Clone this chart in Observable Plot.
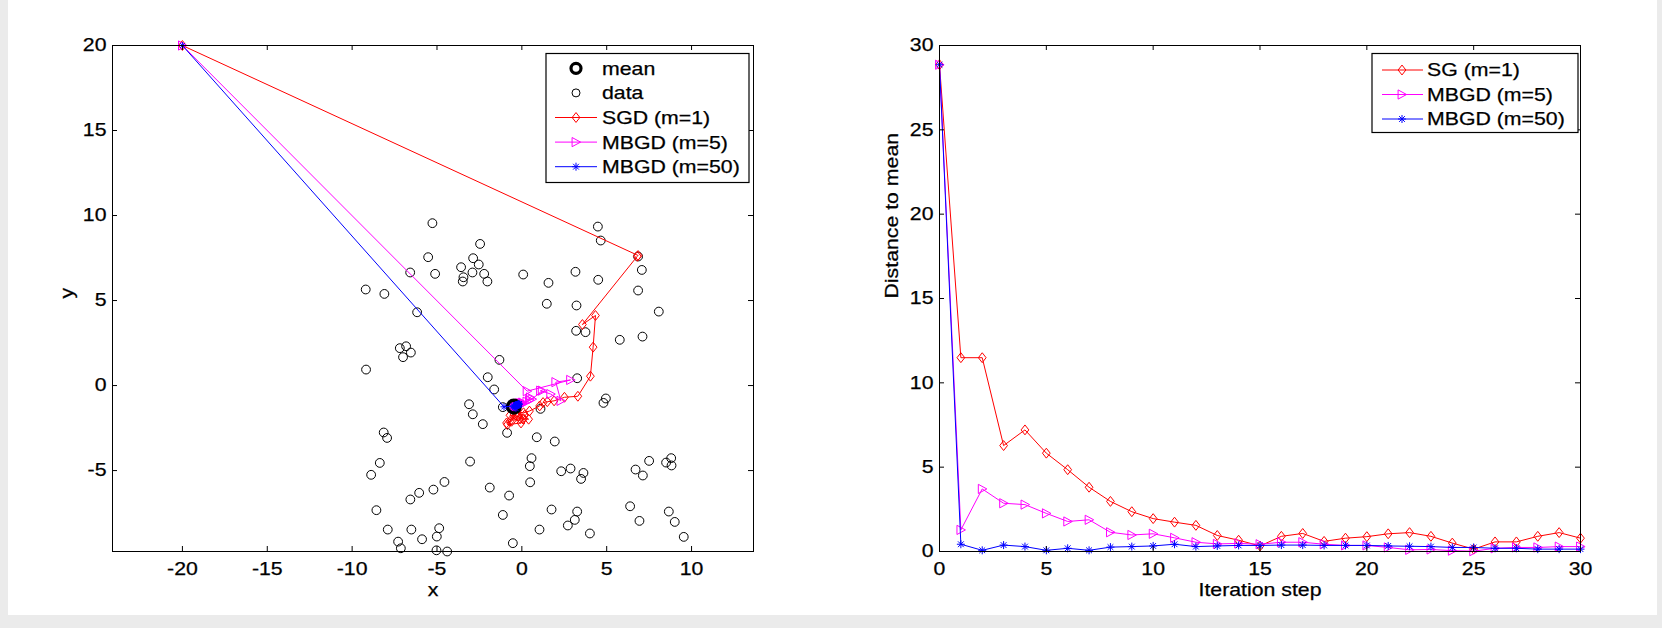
<!DOCTYPE html>
<html>
<head>
<meta charset="utf-8">
<script src="https://cdn.jsdelivr.net/npm/d3@7"></script>
<script src="https://cdn.jsdelivr.net/npm/@observablehq/plot@0.6"></script>
<style>
  html, body { margin: 0; padding: 0; background: #ebebeb; }
  #panel { position: absolute; left: 8px; top: 0; width: 1649px; height: 615px; background: #fff; }
  #wrap { position: absolute; left: 0; top: 0; width: 1662px; height: 628px; }
  #wrap svg { position: absolute; top: 0; }
  #wrap text { stroke: black; stroke-width: 0.25px; paint-order: stroke; }
</style>
</head>
<body>
<div id="panel"></div>
<div id="wrap"></div>
<script>
// ---------- data: left panel (2-D trajectories) ----------
const meanPt = [-0.47, -1.24];

const dataPts = [
  [-5.27, 9.55], [-2.46, 8.33], [-5.52, 7.55], [-2.87, 7.49], [-2.54, 7.12], [-3.58, 6.96],
  [-6.58, 6.65], [-5.11, 6.57], [-2.91, 6.65], [-2.22, 6.57], [-3.44, 6.37], [-3.48, 6.12],
  [-2.03, 6.12], [0.08, 6.53], [1.57, 6.04], [3.16, 6.69], [4.50, 6.22], [4.48, 9.35],
  [4.65, 8.53], [6.85, 7.59], [7.07, 6.80], [6.85, 5.59], [8.07, 4.35], [7.11, 2.88],
  [5.77, 2.69], [3.20, 3.22], [3.75, 3.14], [1.47, 4.81], [3.22, 4.71], [-9.20, 5.65],
  [-8.10, 5.39], [-6.17, 4.31], [-7.19, 2.20], [-6.82, 2.31], [-6.54, 1.94], [-7.00, 1.67],
  [-9.18, 0.94], [-1.32, 1.51], [-2.01, 0.49], [-1.63, -0.23], [-3.11, -1.10], [-2.89, -1.69],
  [-2.30, -2.27], [-1.12, -1.27], [-0.87, -2.78], [1.10, -1.37], [3.26, 0.43], [4.95, -0.76],
  [4.81, -1.02], [0.88, -3.04], [1.94, -3.29], [-8.14, -2.76], [-7.94, -3.08], [-8.37, -4.55],
  [-8.88, -5.25], [-3.05, -4.47], [0.57, -4.27], [0.47, -4.74], [0.49, -5.69], [2.32, -5.04],
  [2.87, -4.88], [3.63, -5.14], [3.49, -5.49], [6.70, -4.94], [7.13, -5.29], [7.50, -4.43],
  [8.50, -4.53], [8.80, -4.27], [8.82, -4.70], [-4.56, -5.67], [-5.21, -6.12], [-6.05, -6.31],
  [-6.57, -6.70], [-8.57, -7.33], [-1.89, -6.00], [-0.75, -6.47], [-1.12, -7.61], [1.75, -7.29],
  [3.26, -7.41], [3.12, -7.90], [2.71, -8.23], [1.04, -8.47], [4.01, -8.70], [6.38, -7.10],
  [6.93, -7.96], [8.66, -7.41], [9.01, -8.02], [9.54, -8.90], [-7.90, -8.47], [-6.51, -8.47],
  [-5.88, -9.04], [-7.29, -9.18], [-7.13, -9.57], [-4.87, -8.39], [-5.01, -8.88], [-5.03, -9.69],
  [-4.40, -9.76], [-0.53, -9.27]
];

const sgdPath = [
  [-20, 20], [6.85, 7.65], [6.8, 7.6], [3.57, 3.59], [4.34, 4.12], [4.2, 2.26], [4.04, 0.55],
  [3.3, -0.63], [2.51, -0.69], [1.9, -0.9], [1.5, -0.95], [1.25, -1.0], [1.05, -1.2],
  [0.45, -1.5], [0.1, -1.6], [-0.3, -1.55], [-0.6, -2.1], [-0.9, -2.2], [-0.2, -1.8],
  [-0.1, -1.95], [0.05, -1.97], [-0.05, -2.2], [-0.85, -2.3], [-0.7, -2.1], [-0.35, -1.75],
  [-0.4, -1.35], [-0.7, -1.75], [-0.3, -1.8], [0.1, -1.95], [0.4, -1.98], [0.15, -1.75]
];

const mb5Path = [
  [-20, 20], [0.31, -0.33], [2.87, 0.33], [2.0, 0.2], [2.3, -0.9], [1.7, -0.5], [1.1, -0.3],
  [1.2, -0.3], [0.6, -0.8], [0.45, -0.85], [0.5, -0.7], [0.3, -0.95], [0.05, -1.05],
  [-0.05, -1.05], [0.0, -1.1], [-0.05, -1.1], [0.05, -1.0], [0.05, -1.05], [-0.1, -1.05],
  [-0.15, -1.05], [-0.1, -1.15], [-0.25, -1.15], [-0.4, -1.2], [-0.35, -1.2], [-0.45, -1.2],
  [-0.45, -1.25], [-0.3, -1.15], [-0.25, -1.1], [-0.25, -1.15], [-0.2, -1.1], [-0.2, -1.15]
];

const mb50Path = [
  [-20, 20], [-1.05, -1.25], [-0.45, -1.2], [-0.2, -1.1], [-0.25, -1.1], [-0.45, -1.3],
  [-0.35, -1.35], [-0.5, -1.2], [-0.3, -1.12], [-0.25, -1.15], [-0.22, -1.12], [-0.15, -1.08],
  [-0.25, -1.15], [-0.22, -1.12], [-0.2, -1.1], [-0.2, -1.1], [-0.18, -1.12], [-0.18, -1.12],
  [-0.2, -1.1], [-0.2, -1.1], [-0.2, -1.1], [-0.22, -1.12], [-0.24, -1.12], [-0.26, -1.12],
  [-0.28, -1.15], [-0.28, -1.15], [-0.32, -1.15], [-0.32, -1.15], [-0.36, -1.18], [-0.36, -1.18],
  [-0.36, -1.18]
];

const xTicksL = [-20, -15, -10, -5, 0, 5, 10];
const yTicksL = [-5, 0, 5, 10, 15, 20];
const xDomL = [-24.12, 13.65];
const yDomL = [-9.76, 20];

// ---------- data: right panel (distance to the mean per iteration) ----------
const sgDist = [28.86, 11.49, 11.49, 6.28, 7.21, 5.83, 4.85, 3.81, 2.97, 2.36, 1.95,
  1.74, 1.55, 0.95, 0.67, 0.33, 0.9, 1.07, 0.6, 0.79, 0.88, 1.05, 1.12, 0.9, 0.5,
  0.14, 0.57, 0.57, 0.9, 1.12, 0.79];
const mb5Dist = [28.86, 1.28, 3.71, 2.86, 2.78, 2.26, 1.78, 1.88, 1.14, 0.98, 1.05,
  0.81, 0.55, 0.45, 0.48, 0.43, 0.55, 0.55, 0.43, 0.36, 0.36, 0.24, 0.1, 0.12, 0.05,
  0.02, 0.19, 0.24, 0.24, 0.29, 0.29];
const mb50Dist = [28.86, 0.43, 0.07, 0.38, 0.29, 0.07, 0.19, 0.07, 0.26, 0.29, 0.33,
  0.43, 0.29, 0.33, 0.36, 0.36, 0.38, 0.38, 0.36, 0.36, 0.36, 0.33, 0.31, 0.29, 0.24,
  0.24, 0.19, 0.19, 0.14, 0.14, 0.14];

const xTicksR = [0, 5, 10, 15, 20, 25, 30];
const yTicksR = [0, 5, 10, 15, 20, 25, 30];
const xDomR = [0, 30];
const yDomR = [0, 30];

// ---------- styling ----------
const FONT = '"Liberation Sans", Arial, Helvetica, sans-serif';
const FS = 18.5;
const STRETCH = 1.15;
const RED = "#ff0000", MAG = "#ff00ff", BLUE = "#0000ff";
const W = 831, H = 614;

// marker shapes (size = PI * r^2, so r comes back as the half-size)
const half = size => Math.sqrt(size / Math.PI);
const diamondSym = {draw(c, size) {
  const r = half(size);
  c.moveTo(0, -r * 1.15); c.lineTo(r * 0.9, 0); c.lineTo(0, r * 1.15); c.lineTo(-r * 0.9, 0); c.closePath();
}};
const triRightSym = {draw(c, size) {
  const r = half(size);
  c.moveTo(r, 0); c.lineTo(-r * 0.85, -r); c.lineTo(-r * 0.85, r); c.closePath();
}};
const starSym = {draw(c, size) {
  const r = half(size), d = r * 0.72;
  c.moveTo(-r, 0); c.lineTo(r, 0); c.moveTo(0, -r); c.lineTo(0, r);
  c.moveTo(-d, -d); c.lineTo(d, d); c.moveTo(-d, d); c.lineTo(d, -d);
}};

// inward tick marks on all four sides of the box
function boxTicks(xt, yt, xd, yd, m) {
  const L = 5;
  const kx = (xd[1] - xd[0]) / (W - m.left - m.right);
  const ky = (yd[1] - yd[0]) / (H - m.top - m.bottom);
  return [
    Plot.ruleX(xt, {x: d => d, y1: yd[0], y2: yd[0] + L * ky, stroke: "black"}),
    Plot.ruleX(xt, {x: d => d, y1: yd[1], y2: yd[1] - L * ky, stroke: "black"}),
    Plot.ruleY(yt, {y: d => d, x1: xd[0], x2: xd[0] + L * kx, stroke: "black"}),
    Plot.ruleY(yt, {y: d => d, x1: xd[1], x2: xd[1] - L * kx, stroke: "black"})
  ];
}

function series(path, color, sym, r) {
  return [
    Plot.line(path, {x: d => d[0], y: d => d[1], stroke: color, strokeWidth: 1}),
    Plot.dot(path, {x: d => d[0], y: d => d[1], symbol: sym, r, stroke: color, fill: "none", strokeWidth: 1})
  ];
}
function seriesIdx(vals, color, sym, r) {
  return [
    Plot.line(vals, {x: (d, i) => i, y: d => d, stroke: color, strokeWidth: 1}),
    Plot.dot(vals, {x: (d, i) => i, y: d => d, symbol: sym, r, stroke: color, fill: "none", strokeWidth: 1})
  ];
}

const plotStyle = {fontFamily: FONT, fontSize: FS + "px", background: "transparent", overflow: "visible", color: "black"};

// ---------- left panel ----------
const mL = {left: 112, right: 78, top: 45, bottom: 63};
const leftSvg = Plot.plot({
  width: W, height: H,
  marginLeft: mL.left, marginRight: mL.right, marginTop: mL.top, marginBottom: mL.bottom,
  x: {domain: xDomL}, y: {domain: yDomL},
  style: plotStyle,
  marks: [
    Plot.axisX(xTicksL, {anchor: "bottom", tickSize: 0, tickPadding: 10, label: null, tickFormat: d => String(d), fontSize: FS}),
    Plot.axisY(yTicksL, {anchor: "left", tickSize: 0, tickPadding: 6, label: null, tickFormat: d => String(d), fontSize: FS}),
    Plot.dot(dataPts, {x: d => d[0], y: d => d[1], r: 4.4, stroke: "black", strokeWidth: 1, fill: "none"}),
    ...series(sgdPath, RED, diamondSym, 4.3),
    ...series(mb5Path, MAG, triRightSym, 4.6),
    Plot.dot([meanPt], {x: d => d[0], y: d => d[1], r: 6.3, stroke: "black", strokeWidth: 3.5, fill: "none"}),
    ...series(mb50Path, BLUE, starSym, 3.6),
    Plot.frame({stroke: "black", strokeWidth: 1}),
    ...boxTicks(xTicksL, yTicksL, xDomL, yDomL, mL),
    Plot.text(["x"], {text: d => d, frameAnchor: "bottom", lineAnchor: "middle", dy: 39, fontSize: FS}),
    Plot.text(["y"], {text: d => d, frameAnchor: "left", lineAnchor: "middle", dx: -45, rotate: -90, fontSize: FS})
  ]
});

// ---------- right panel ----------
const mR = {left: 108, right: 82, top: 45, bottom: 63};
const rightSvg = Plot.plot({
  width: W, height: H,
  marginLeft: mR.left, marginRight: mR.right, marginTop: mR.top, marginBottom: mR.bottom,
  x: {domain: xDomR}, y: {domain: yDomR},
  style: plotStyle,
  marks: [
    Plot.axisX(xTicksR, {anchor: "bottom", tickSize: 0, tickPadding: 10, label: null, tickFormat: d => String(d), fontSize: FS}),
    Plot.axisY(yTicksR, {anchor: "left", tickSize: 0, tickPadding: 6, label: null, tickFormat: d => String(d), fontSize: FS}),
    ...seriesIdx(sgDist, RED, diamondSym, 4.3),
    ...seriesIdx(mb5Dist, MAG, triRightSym, 4.6),
    ...seriesIdx(mb50Dist, BLUE, starSym, 4),
    Plot.frame({stroke: "black", strokeWidth: 1}),
    ...boxTicks(xTicksR, yTicksR, xDomR, yDomR, mR),
    Plot.text(["Iteration step"], {text: d => d, frameAnchor: "bottom", lineAnchor: "middle", dy: 39, fontSize: FS}),
    Plot.text(["Distance to mean"], {text: d => d, frameAnchor: "left", lineAnchor: "middle", dx: -47, rotate: -90, fontSize: FS})
  ]
});

const wrap = document.getElementById("wrap");
leftSvg.style.left = "0px";
rightSvg.style.left = "831px";
wrap.appendChild(leftSvg);
wrap.appendChild(rightSvg);

// ---------- in-axes legends ----------
function addLegend(svg, box, rows) {
  const g = d3.select(svg).append("g")
    .attr("font-family", FONT).attr("font-size", FS).attr("text-anchor", "start");
  g.append("rect").attr("x", box.x).attr("y", box.y).attr("width", box.w).attr("height", box.h)
    .attr("fill", "white").attr("stroke", "black").attr("stroke-width", 1.2);
  rows.forEach((row, i) => {
    const cy = box.row0 + i * box.step;
    if (row.line) {
      g.append("line").attr("x1", box.lx1).attr("x2", box.lx2).attr("y1", cy).attr("y2", cy)
        .attr("stroke", row.color).attr("stroke-width", 1);
    }
    g.append("path").attr("transform", `translate(${box.mx},${cy})`)
      .attr("d", d3.symbol(row.sym, Math.PI * row.r * row.r)())
      .attr("fill", "none").attr("stroke", row.color).attr("stroke-width", row.sw);
    g.append("text").attr("x", box.tx).attr("y", cy).attr("dy", "0.35em")
      .attr("text-anchor", "start").attr("fill", "black").text(row.label);
  });
}

addLegend(leftSvg,
  {x: 546, y: 53.5, w: 203, h: 129, row0: 68.3, step: 24.6, lx1: 555, lx2: 597, mx: 576, tx: 602},
  [
    {label: "mean", sym: d3.symbolCircle, r: 5, color: "black", sw: 3.2, line: false},
    {label: "data", sym: d3.symbolCircle, r: 4, color: "black", sw: 1, line: false},
    {label: "SGD (m=1)", sym: diamondSym, r: 4.3, color: RED, sw: 1, line: true},
    {label: "MBGD (m=5)", sym: triRightSym, r: 4.6, color: MAG, sw: 1, line: true},
    {label: "MBGD (m=50)", sym: starSym, r: 4, color: BLUE, sw: 1, line: true}
  ]);

addLegend(rightSvg,
  {x: 541, y: 53.5, w: 206, h: 79, row0: 70, step: 24.5, lx1: 551, lx2: 592, mx: 571, tx: 596},
  [
    {label: "SG (m=1)", sym: diamondSym, r: 4.3, color: RED, sw: 1, line: true},
    {label: "MBGD (m=5)", sym: triRightSym, r: 4.6, color: MAG, sw: 1, line: true},
    {label: "MBGD (m=50)", sym: starSym, r: 4, color: BLUE, sw: 1, line: true}
  ]);

// the figure's lettering runs a little wider than Arial: stretch each label horizontally
for (const t of document.querySelectorAll("#wrap text")) {
  if (t.querySelector("tspan")) continue;
  const len = t.getComputedTextLength();
  if (len > 0) {
    t.setAttribute("textLength", (len * STRETCH).toFixed(2));
    t.setAttribute("lengthAdjust", "spacingAndGlyphs");
  }
}
</script>
</body>
</html>
